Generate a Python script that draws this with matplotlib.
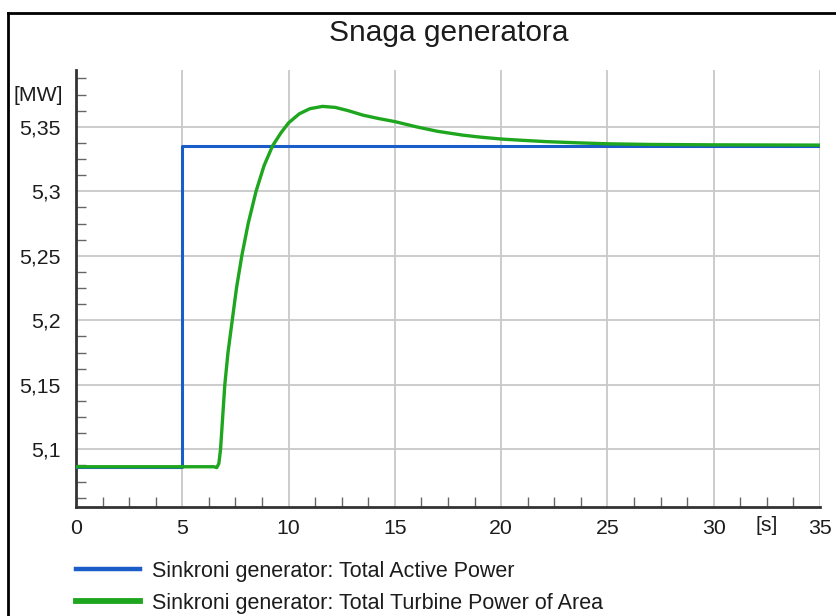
import matplotlib
matplotlib.use("Agg")
import matplotlib.pyplot as plt
from matplotlib.lines import Line2D
from matplotlib.ticker import MultipleLocator

plt.rcParams['font.family'] = ['Liberation Sans', 'DejaVu Sans']

# step of the generator active power
active_t = [0.0, 5.0, 5.0, 35.0]
active_p = [5.0865, 5.0865, 5.3353, 5.3353]

# turbine power response
turbine_t = [0.0, 6.5, 6.62, 6.72, 6.8, 6.9, 7.0, 7.15, 7.35, 7.55, 7.8, 8.1,
             8.47, 8.85, 9.25, 9.65, 10.0, 10.5, 11.0, 11.6, 12.2, 12.8, 13.5,
             14.2, 15.0, 16.0, 17.0, 18.2, 19.0, 20.0, 21.0, 22.1, 23.7, 25.0,
             27.0, 30.0, 35.0]
turbine_p = [5.0865, 5.0865, 5.0858, 5.089, 5.100, 5.125, 5.150, 5.175, 5.200,
             5.225, 5.250, 5.275, 5.300, 5.320, 5.3353, 5.3455, 5.3530, 5.3600,
             5.3640, 5.3658, 5.3650, 5.3625, 5.3590, 5.3565, 5.3540, 5.3500,
             5.3465, 5.3435, 5.3420, 5.3405, 5.3395, 5.3385, 5.3375, 5.3368,
             5.3363, 5.3360, 5.3358]

x_ticks = [0, 5, 10, 15, 20, 25, 30, 35]
x_tick_labels = ["0", "5", "10", "15", "20", "25", "30", "35"]
y_ticks = [5.1, 5.15, 5.2, 5.25, 5.3, 5.35]
y_tick_labels = ["5,1", "5,15", "5,2", "5,25", "5,3", "5,35"]

series_labels = ["Sinkroni generator: Total Active Power",
                 "Sinkroni generator: Total Turbine Power of Area"]

blue = "#1a5cc8"
green = "#1ea61e"
text_col = "#1c1c1c"
W, H = 837, 616

fig = plt.figure(figsize=(W / 100, H / 100), dpi=100)
ax = fig.add_axes([76 / W, 1 - 507 / H, (820 - 76) / W, (507 - 70) / H])

ax.plot(active_t, active_p, color=blue, lw=2.2, zorder=3)
ax.plot(turbine_t, turbine_p, color=green, lw=2.4, zorder=4)

ax.set_xlim(0, 35)
ax.set_ylim(5.0553, 5.394)
ax.set_xticks(x_ticks)
ax.set_xticklabels(x_tick_labels)
ax.set_yticks(y_ticks)
ax.set_yticklabels(y_tick_labels)
ax.xaxis.set_minor_locator(MultipleLocator(1.25))
ax.yaxis.set_minor_locator(MultipleLocator(0.0125))

ax.grid(True, which='major', color='#c8c8c8', lw=1.3)
ax.set_axisbelow(True)
ax.tick_params(which='major', length=0, labelsize=15.3, colors=text_col)
ax.tick_params(axis='y', which='major', pad=11)
ax.tick_params(axis='x', which='major', pad=9)
ax.tick_params(which='minor', direction='in', length=7, width=1, color='#666666')

for side in ['top', 'right']:
    ax.spines[side].set_visible(False)
for side in ['left', 'bottom']:
    ax.spines[side].set_color('#333333')
    ax.spines[side].set_linewidth(2)

# unit labels sit in the tick label rows
ax.text(-0.018, 5.3745, "[MW]", transform=ax.get_yaxis_transform(),
        ha='right', va='center', fontsize=15.3, color=text_col)
ax.text(32.5, -0.0205, "[s]", transform=ax.get_xaxis_transform(),
        ha='center', va='top', fontsize=15.3, color=text_col)

fig.text(449 / W, 1 - 33 / H, "Snaga generatora", ha='center', va='center',
         fontsize=21.5, color=text_col)

handles = [Line2D([], [], color=blue, lw=3.2),
           Line2D([], [], color=green, lw=4.2)]
fig.legend(handles, series_labels, loc='upper left',
           bbox_to_anchor=(76 / W, 1 - 561 / H), frameon=False, fontsize=15.5,
           handlelength=2.95, handletextpad=0.6, labelspacing=0.5,
           borderaxespad=0, borderpad=0, labelcolor=text_col)

# outer frame, open towards the right and bottom edges
fig.add_artist(Line2D([8 / W, 1.0], [1 - 13 / H, 1 - 13 / H],
                      transform=fig.transFigure, color='black', lw=2))
fig.add_artist(Line2D([8 / W, 8 / W], [1 - 13 / H, 0.0],
                      transform=fig.transFigure, color='black', lw=2))

fig.savefig("out.png", dpi=100)
